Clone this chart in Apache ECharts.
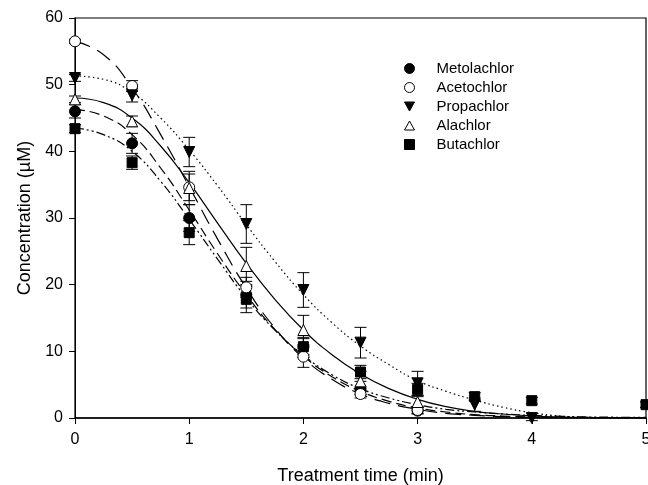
<!DOCTYPE html>
<html>
<head>
<meta charset="utf-8">
<script src="https://cdn.jsdelivr.net/npm/echarts@6/dist/echarts.min.js"></script>
<style>
  html, body { margin: 0; padding: 0; background: #fff; }
  #chart { width: 648px; height: 485px; }
</style>
</head>
<body>
<div id="chart"></div>
<script>
const names = ['Metolachlor', 'Acetochlor', 'Propachlor', 'Alachlor', 'Butachlor']

// measured points (time, min)
const times7 = [0, 0.5, 1, 1.5, 2, 2.5, 3]
const times9 = [0, 0.5, 1, 1.5, 2, 2.5, 3, 3.5, 4]
const times10 = [0, 0.5, 1, 1.5, 2, 2.5, 3, 3.5, 4, 5]

const metolachlor = [46, 41.2, 30, 18.5, 10.6, 4.5, 1.1]
const metolachlorErr = [1, 1.5, 2, 2, 1.5, 1, 0.5]
const acetochlor = [56.5, 49.8, 34.6, 19.6, 9.2, 3.6, 1.2]
const acetochlorErr = [0.3, 0.8, 2, 1.5, 1.6, 0.6, 0.5]
const propachlor = [51, 48.4, 39.9, 29.1, 19.2, 11.3, 5.2, 2, 0]
const propachlorErr = [0.5, 1, 2.2, 2.9, 2.6, 2.3, 1.8, 1, 0.4]
const alachlor = [47.8, 44.5, 34.5, 22.8, 13.2, 5.5, 2.4]
const alachlorErr = [0.5, 0.8, 2.5, 2.8, 2.2, 1.5, 0.8]
const butachlor = [43.4, 38.3, 27.8, 17.8, 10.7, 6.9, 4.3, 3.2, 2.6, 2.0]
const butachlorErr = [0.6, 1, 1.8, 2, 1.2, 1, 0.9, 0.6, 0.5, 0.4]

// fitted curves
const curveT = [0, 0.25, 0.5, 0.75, 1, 1.25, 1.5, 1.75, 2, 2.25, 2.5, 2.75, 3, 3.25, 3.5, 3.75, 4, 4.25, 4.5, 5]
const metolachlorFit = [46.3, 45.3, 42.5, 37.5, 31.2, 24.6, 18.5, 13.3, 9.3, 6.2, 4, 2.5, 1.5, 0.9, 0.5, 0.3, 0.15, 0.08, 0.04, 0]
const acetochlorFit = [56.5, 54.5, 49.5, 42.5, 34.7, 26.8, 19.5, 13.5, 9, 5.8, 3.6, 2.2, 1.3, 0.7, 0.4, 0.2, 0.1, 0.05, 0.02, 0]
const propachlorFit = [51.3, 50.8, 48.8, 45, 40.2, 34.8, 29, 23.5, 18.5, 14.3, 10.8, 8, 5.6, 4, 2.7, 1.6, 0.8, 0.3, 0.1, 0]
const alachlorFit = [48, 47.3, 45, 40.8, 35.3, 29.2, 23.2, 17.8, 13.2, 9.5, 6.6, 4.4, 2.8, 1.7, 1, 0.6, 0.3, 0.15, 0.08, 0]
const butachlorFit = [43.5, 42.5, 40, 35.5, 29.8, 23.8, 18, 13.2, 9.4, 6.5, 4.4, 3, 2, 1.3, 0.9, 0.6, 0.4, 0.25, 0.15, 0.1]

const xTicks = [0, 1, 2, 3, 4, 5]
const yTicks = [0, 10, 20, 30, 40, 50, 60]

const downTri = 'path://M0,0 L10,0 L5,9 Z'
const upTri = 'path://M5,0 L10,9 L0,9 Z'

const sets = [
  { name: 'Metolachlor', t: times7, v: metolachlor, e: metolachlorErr, fit: metolachlorFit,
    symbol: 'circle', fill: '#000', dash: [10, 5] },
  { name: 'Acetochlor', t: times7, v: acetochlor, e: acetochlorErr, fit: acetochlorFit,
    symbol: 'circle', fill: '#fff', dash: [16, 8] },
  { name: 'Propachlor', t: times9, v: propachlor, e: propachlorErr, fit: propachlorFit,
    symbol: downTri, fill: '#000', dash: [1.5, 3] },
  { name: 'Alachlor', t: times7, v: alachlor, e: alachlorErr, fit: alachlorFit,
    symbol: upTri, fill: '#fff', dash: 'solid' },
  { name: 'Butachlor', t: times10, v: butachlor, e: butachlorErr, fit: butachlorFit,
    symbol: 'rect', fill: '#000', dash: [9, 3, 2, 3, 2, 3] },
]

const chart = echarts.init(document.getElementById('chart'))

const series = []
sets.forEach((s) => {
  series.push({
    type: 'line',
    name: s.name + ' fit',
    data: curveT.map((t, i) => [t, s.fit[i]]),
    smooth: true,
    symbol: 'none',
    silent: true,
    lineStyle: { color: '#000', width: 1.2, type: s.dash },
    z: 2,
  })
  series.push({
    type: 'custom',
    name: s.name + ' err',
    data: s.t.map((t, i) => [t, s.v[i] - s.e[i], s.v[i] + s.e[i]]),
    renderItem: (params, api) => {
      const lo = api.coord([api.value(0), api.value(1)])
      const hi = api.coord([api.value(0), api.value(2)])
      const w = 6
      const style = { stroke: '#000', lineWidth: 1 }
      return {
        type: 'group',
        children: [
          { type: 'line', shape: { x1: lo[0], y1: lo[1], x2: hi[0], y2: hi[1] }, style },
          { type: 'line', shape: { x1: lo[0] - w, y1: lo[1], x2: lo[0] + w, y2: lo[1] }, style },
          { type: 'line', shape: { x1: hi[0] - w, y1: hi[1], x2: hi[0] + w, y2: hi[1] }, style },
        ],
      }
    },
    silent: true,
    z: 3,
  })
  series.push({
    type: 'scatter',
    name: s.name,
    data: s.t.map((t, i) => [t, s.v[i]]),
    symbol: s.symbol,
    symbolSize: s.symbol === 'rect' ? 10 : 11,
    itemStyle: { color: s.fill, borderColor: '#000', borderWidth: 1, opacity: 1 },
    z: 4,
  })
})

const font = 'Liberation Sans, Arial, sans-serif'
const axisText = { color: '#000', fontSize: 16, fontFamily: font }
const titleText = { color: '#000', fontSize: 18, fontFamily: font }

const option = {
  backgroundColor: '#fff',
  animation: false,
  grid: {
    left: 75, right: 2, top: 18, bottom: 67,
    outerBoundsMode: 'none',
    show: true, borderColor: '#000', borderWidth: 1.2, backgroundColor: 'transparent',
  },
  legend: {
    orient: 'vertical',
    left: 399,
    top: 56,
    itemWidth: 10,
    itemHeight: 10,
    itemGap: 4,
    data: sets.map((s) => ({
      name: s.name,
      icon: s.symbol,
      itemStyle: { color: s.fill, borderColor: '#000', borderWidth: 1, opacity: 1 },
    })),
    textStyle: { color: '#000', fontSize: 15, fontFamily: font, lineHeight: 15, padding: [0, 0, 0, 17] },
  },
  xAxis: {
    type: 'value',
    min: 0,
    max: 5,
    interval: 1,
    name: 'Treatment time (min)',
    nameLocation: 'middle',
    nameGap: 49,
    nameTextStyle: titleText,
    axisLine: { onZero: false, lineStyle: { color: '#000', width: 1.5 } },
    axisTick: { inside: false, length: 6, lineStyle: { color: '#000' } },
    axisLabel: { ...axisText, margin: 14, formatter: (v) => (xTicks.includes(v) ? String(v) : '') },
    splitLine: { show: false },
  },
  yAxis: {
    type: 'value',
    min: 0,
    max: 60,
    interval: 10,
    name: 'Concentration (\u00b5M)',
    nameLocation: 'middle',
    nameGap: 37,
    nameTextStyle: titleText,
    axisLine: { show: true, onZero: false, lineStyle: { color: '#000', width: 1 } },
    axisTick: { show: true, length: 6, lineStyle: { color: '#000' } },
    axisLabel: { ...axisText, margin: 12, formatter: (v) => (yTicks.includes(v) ? String(v) : '') },
    splitLine: { show: false },
  },
  series,
}

chart.setOption(option)
</script>
</body>
</html>
